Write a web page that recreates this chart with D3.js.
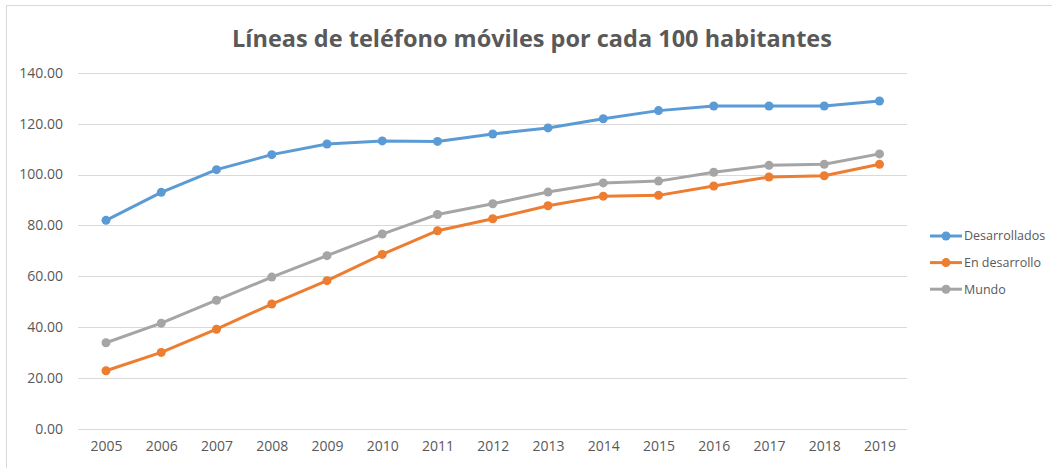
<!DOCTYPE html>
<html>
<head>
<meta charset="utf-8">
<script src="https://cdn.jsdelivr.net/npm/d3@7"></script>
<style>
  body { margin: 0; background: #fff; }
  text { font-family: "Open Sans", sans-serif; fill: #595959; }
</style>
</head>
<body>
<div id="chart"></div>
<script>
// data
var years = [2005, 2006, 2007, 2008, 2009, 2010, 2011, 2012, 2013, 2014, 2015, 2016, 2017, 2018, 2019];
var desarrollados = [82.0, 93.0, 101.9, 107.8, 112.0, 113.2, 113.0, 115.9, 118.3, 121.9, 125.1, 126.9, 126.9, 126.9, 128.9];
var enDesarrollo = [22.9, 30.1, 39.2, 49.1, 58.3, 68.6, 77.9, 82.6, 87.7, 91.5, 91.8, 95.5, 99.0, 99.5, 104.0];
var mundo = [33.9, 41.6, 50.6, 59.7, 68.1, 76.6, 84.3, 88.5, 93.1, 96.7, 97.4, 100.9, 103.6, 104.0, 108.1];
var yTicks = [0, 20, 40, 60, 80, 100, 120, 140];
var seriesNames = ["Desarrollados", "En desarrollo", "Mundo"];
var seriesColors = ["#5B9BD5", "#ED7D31", "#A5A5A5"];

var width = 1052, height = 468;
var series = [desarrollados, enDesarrollo, mundo].map(function(vals, i) {
	return { name: seriesNames[i], color: seriesColors[i], values: vals };
});

var svg = d3.select("#chart").append("svg")
	.attr("width", width)
	.attr("height", height);

// outer chart border
svg.append("rect")
	.attr("x", 6.5)
	.attr("y", 5.5)
	.attr("width", width + 20)
	.attr("height", height + 20)
	.style("fill", "none")
	.style("stroke", "#d9d9d9");

// plot area: gridlines from 78 to 907, 0 at 429 and 140 at 73
var x = d3.scalePoint()
	.domain(years)
	.range([106, 879.5]);
var y = d3.scaleLinear()
	.domain([0, 140])
	.range([429, 72.7]);

svg.append("g")
	.attr("class", "grid")
	.selectAll("line")
	.data(yTicks)
	.enter()
	.append("line")
	.attr("x1", 78)
	.attr("x2", 907)
	.attr("y1", function(d) { return Math.round(y(d)) + 0.5; })
	.attr("y2", function(d) { return Math.round(y(d)) + 0.5; })
	.style("stroke", "#d9d9d9")
	.style("stroke-width", 1);

// y axis labels
var yAxis = d3.axisLeft(y)
	.tickValues(yTicks)
	.tickFormat(d3.format(".2f"))
	.tickSize(0)
	.tickPadding(0);
var yax = svg.append("g")
	.attr("transform", "translate(63,0)")
	.call(yAxis);
yax.select(".domain").remove();
yax.selectAll("text")
	.style("font-size", "14px")
	.style("font-family", "'Open Sans', sans-serif")
	.attr("fill", "#595959");

// x axis labels
var xAxis = d3.axisBottom(x).tickSize(0).tickPadding(0);
var xax = svg.append("g")
	.attr("transform", "translate(0,441)")
	.call(xAxis);
xax.select(".domain").remove();
xax.selectAll("text")
	.style("font-size", "14px")
	.style("font-family", "'Open Sans', sans-serif")
	.attr("fill", "#595959");

// title
svg.append("text")
	.attr("x", 532)
	.attr("y", 47)
	.style("text-anchor", "middle")
	.style("font-size", "23.5px")
	.style("font-weight", "bold")
	.text("Líneas de teléfono móviles por cada 100 habitantes");

// lines and markers
var line = d3.line()
	.x(function(d, i) { return x(years[i]); })
	.y(function(d) { return y(d); });

var g = svg.selectAll(".series")
	.data(series)
	.enter()
	.append("g")
	.attr("class", "series");
g.append("path")
	.attr("d", function(d) { return line(d.values); })
	.style("fill", "none")
	.style("stroke", function(d) { return d.color; })
	.style("stroke-width", 3)
	.style("stroke-linejoin", "round");
g.each(function(s) {
	d3.select(this).selectAll("circle")
		.data(s.values)
		.enter()
		.append("circle")
		.attr("cx", function(d, i) { return x(years[i]); })
		.attr("cy", function(d) { return y(d); })
		.attr("r", 4.5)
		.style("fill", s.color);
});

// legend
var legend = svg.selectAll(".legend")
	.data(series)
	.enter()
	.append("g")
	.attr("class", "legend")
	.attr("transform", function(d, i) { return "translate(930," + (236 + i * 26.6) + ")"; });
legend.append("line")
	.attr("x1", 0)
	.attr("x2", 32)
	.style("stroke", function(d) { return d.color; })
	.style("stroke-width", 3);
legend.append("circle")
	.attr("cx", 16)
	.attr("r", 4.5)
	.style("fill", function(d) { return d.color; });
legend.append("text")
	.attr("x", 34)
	.attr("dy", "0.35em")
	.style("font-size", "12.5px")
	.text(function(d) { return d.name; });
</script>
</body>
</html>
